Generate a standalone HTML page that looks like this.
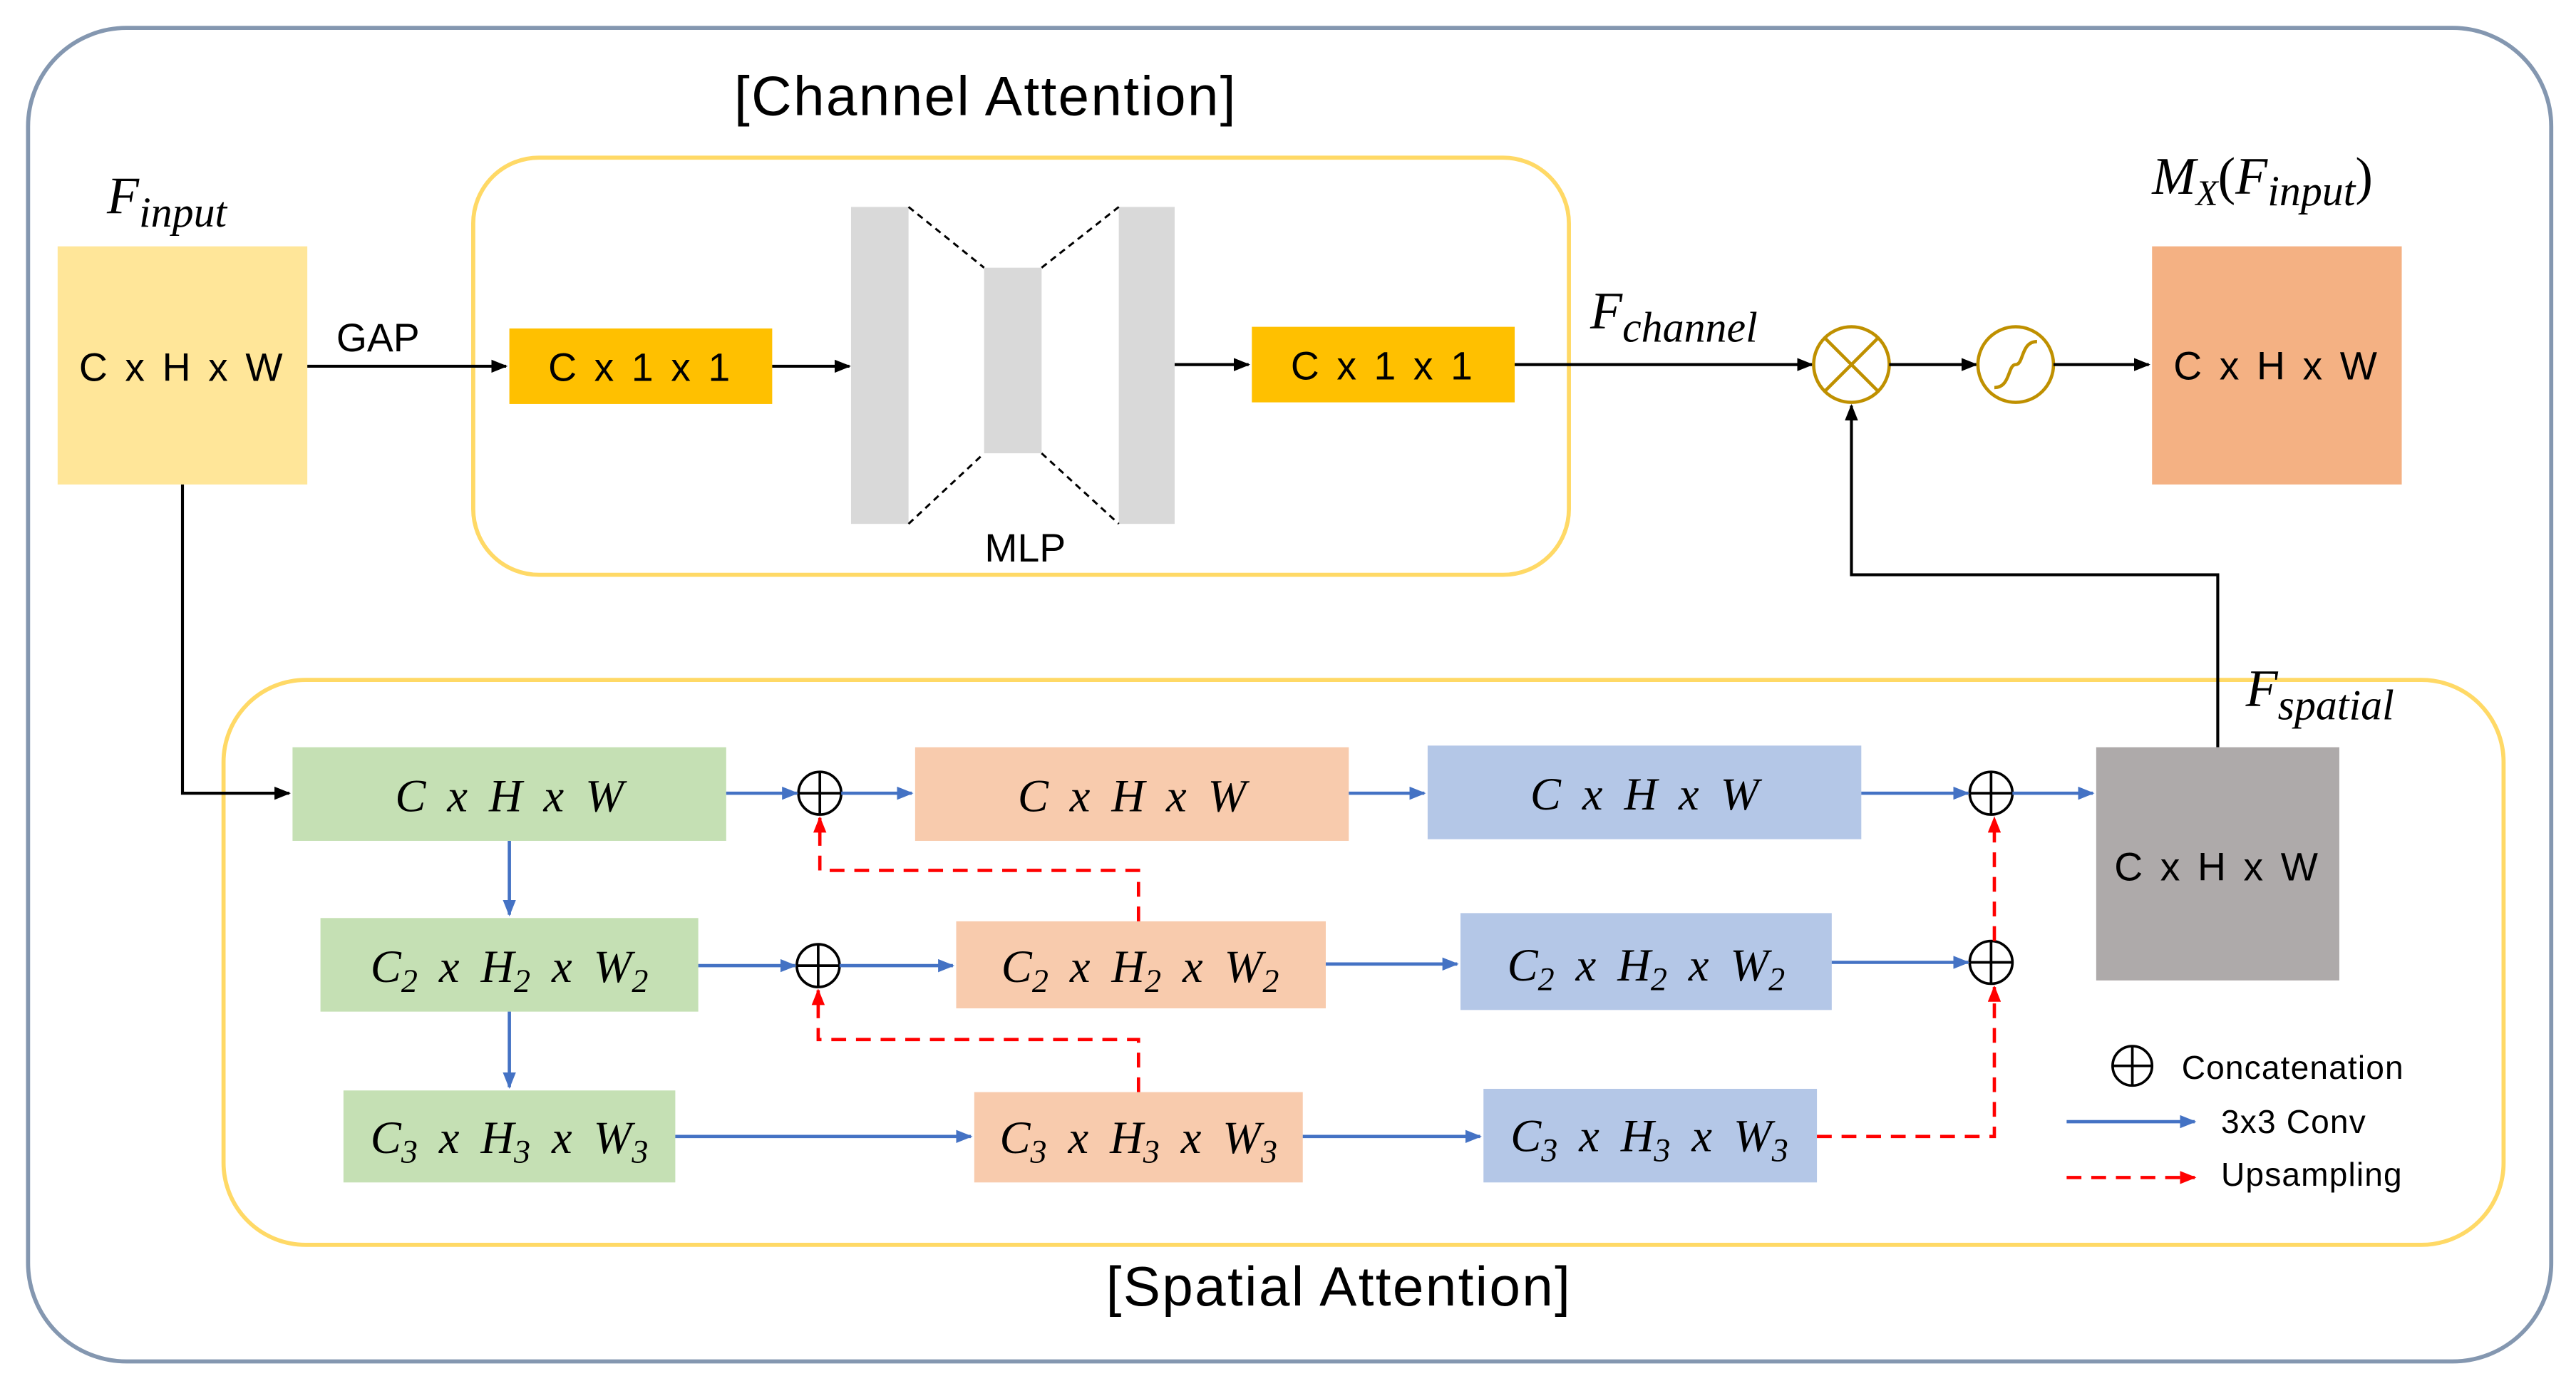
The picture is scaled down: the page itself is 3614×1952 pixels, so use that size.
<!DOCTYPE html>
<html><head><meta charset="utf-8"><style>
html,body{margin:0;padding:0;background:#fff;}
svg{display:block;}
.s{font-family:"Liberation Sans",sans-serif;}
.m{font-family:"Liberation Serif",serif;font-style:italic;}
</style></head><body>
<svg width="3614" height="1952" viewBox="0 0 1568 847" xmlns="http://www.w3.org/2000/svg">
<defs>
<marker id="ak" markerWidth="10" markerHeight="8" refX="9" refY="4" orient="auto" markerUnits="userSpaceOnUse"><path d="M0,0 L10,4 L0,8 z" fill="#000"/></marker>
<marker id="ab" markerWidth="10" markerHeight="8" refX="9" refY="4" orient="auto" markerUnits="userSpaceOnUse"><path d="M0,0 L10,4 L0,8 z" fill="#4472c4"/></marker>
<marker id="ar" markerWidth="10" markerHeight="8" refX="9" refY="4" orient="auto" markerUnits="userSpaceOnUse"><path d="M0,0 L10,4 L0,8 z" fill="#ff0000"/></marker>
</defs>
<rect x="0" y="0" width="1568" height="847" fill="#fff"/>
<rect x="17" y="17" width="1536" height="812" rx="60" fill="none" stroke="#8497b0" stroke-width="2.5"/>
<rect x="288" y="96" width="667" height="254" rx="40" fill="none" stroke="#ffd966" stroke-width="2.5"/>
<rect x="136" y="414" width="1388" height="344" rx="50" fill="none" stroke="#ffd966" stroke-width="2.5"/>
<text x="600" y="70" class="s" font-size="34" text-anchor="middle" letter-spacing="1">[Channel Attention]</text>
<text x="815" y="795" class="s" font-size="34" text-anchor="middle" letter-spacing="1">[Spatial Attention]</text>

<text x="65" y="130" class="m" font-size="32">F<tspan font-size="26" dy="8">input</tspan></text>
<rect x="35" y="150" width="152" height="145" fill="#ffe699"/>
<text x="111" y="232" class="s" font-size="24" text-anchor="middle" letter-spacing="2">C x H x W</text>
<line x1="187" y1="223" x2="308" y2="223" stroke="#000" stroke-width="1.8" marker-end="url(#ak)"/>
<text x="230" y="214" class="s" font-size="24" text-anchor="middle">GAP</text>
<rect x="310" y="200" width="160" height="46" fill="#ffc000"/>
<text x="390" y="232" class="s" font-size="24" text-anchor="middle" letter-spacing="2">C x 1 x 1</text>
<line x1="470" y1="223" x2="517" y2="223" stroke="#000" stroke-width="1.8" marker-end="url(#ak)"/>
<rect x="518" y="126" width="35" height="193" fill="#d9d9d9"/>
<rect x="599" y="163" width="35" height="113" fill="#d9d9d9"/>
<rect x="681" y="126" width="34" height="193" fill="#d9d9d9"/>
<g stroke="#000" stroke-width="1.3" stroke-dasharray="4,3">
<line x1="553" y1="126" x2="599" y2="163"/><line x1="553" y1="319" x2="599" y2="276"/>
<line x1="634" y1="163" x2="681" y2="126"/><line x1="634" y1="276" x2="681" y2="319"/>
</g>
<text x="624" y="342" class="s" font-size="24" text-anchor="middle">MLP</text>
<line x1="715" y1="222" x2="760" y2="222" stroke="#000" stroke-width="1.8" marker-end="url(#ak)"/>
<rect x="762" y="199" width="160" height="46" fill="#ffc000"/>
<text x="842" y="231" class="s" font-size="24" text-anchor="middle" letter-spacing="2">C x 1 x 1</text>
<line x1="922" y1="222" x2="1103" y2="222" stroke="#000" stroke-width="1.8" marker-end="url(#ak)"/>
<text x="968" y="200" class="m" font-size="32">F<tspan font-size="26" dy="8">channel</tspan></text>
<circle cx="1127" cy="222" r="23" fill="none" stroke="#bf9000" stroke-width="2"/>
<line x1="1111" y1="206" x2="1143" y2="238" stroke="#bf9000" stroke-width="2"/>
<line x1="1143" y1="206" x2="1111" y2="238" stroke="#bf9000" stroke-width="2"/>
<line x1="1150" y1="222" x2="1203" y2="222" stroke="#000" stroke-width="1.8" marker-end="url(#ak)"/>
<circle cx="1227" cy="222" r="23" fill="none" stroke="#bf9000" stroke-width="2"/>
<path d="M1214,236 C1224,236 1222,222 1227,222 C1232,222 1230,208 1240,208" fill="none" stroke="#bf9000" stroke-width="2"/>
<line x1="1250" y1="222" x2="1308" y2="222" stroke="#000" stroke-width="1.8" marker-end="url(#ak)"/>
<text x="1310" y="118" class="m" font-size="32">M<tspan font-size="22" dy="7">X</tspan><tspan dy="-7" font-style="normal">(</tspan>F<tspan font-size="26" dy="7">input</tspan><tspan dy="-7" font-style="normal">)</tspan></text>
<rect x="1310" y="150" width="152" height="145" fill="#f4b183"/>
<text x="1386" y="231" class="s" font-size="24" text-anchor="middle" letter-spacing="2">C x H x W</text>
<polyline points="1350,455 1350,350 1127,350 1127,247" fill="none" stroke="#000" stroke-width="1.8" marker-end="url(#ak)"/>
<text x="1367" y="430" class="m" font-size="32">F<tspan font-size="26" dy="8">spatial</tspan></text>
<polyline points="111,295 111,483 176,483" fill="none" stroke="#000" stroke-width="1.8" marker-end="url(#ak)"/>

<rect x="178" y="455" width="264" height="57" fill="#c5e0b4"/>
<rect x="195" y="559" width="230" height="57" fill="#c5e0b4"/>
<rect x="209" y="664" width="202" height="56" fill="#c5e0b4"/>
<rect x="557" y="455" width="264" height="57" fill="#f8cbad"/>
<rect x="582" y="561" width="225" height="53" fill="#f8cbad"/>
<rect x="593" y="665" width="200" height="55" fill="#f8cbad"/>
<rect x="869" y="454" width="264" height="57" fill="#b4c7e7"/>
<rect x="889" y="556" width="226" height="59" fill="#b4c7e7"/>
<rect x="903" y="663" width="203" height="57" fill="#b4c7e7"/>
<rect x="1276" y="455" width="148" height="142" fill="#aeaaaa"/>
<text x="1350" y="536" class="s" font-size="24" text-anchor="middle" letter-spacing="2">C x H x W</text>

<g class="m" font-size="28" text-anchor="middle" word-spacing="6">
<text x="310" y="494">C x H x W</text>
<text x="689" y="494">C x H x W</text>
<text x="1001" y="493">C x H x W</text>
<text x="310" y="598">C<tspan font-size="20" dy="6">2</tspan><tspan dy="-6"> x H</tspan><tspan font-size="20" dy="6">2</tspan><tspan dy="-6"> x W</tspan><tspan font-size="20" dy="6">2</tspan></text>
<text x="694" y="598">C<tspan font-size="20" dy="6">2</tspan><tspan dy="-6"> x H</tspan><tspan font-size="20" dy="6">2</tspan><tspan dy="-6"> x W</tspan><tspan font-size="20" dy="6">2</tspan></text>
<text x="1002" y="597">C<tspan font-size="20" dy="6">2</tspan><tspan dy="-6"> x H</tspan><tspan font-size="20" dy="6">2</tspan><tspan dy="-6"> x W</tspan><tspan font-size="20" dy="6">2</tspan></text>
<text x="310" y="702">C<tspan font-size="20" dy="6">3</tspan><tspan dy="-6"> x H</tspan><tspan font-size="20" dy="6">3</tspan><tspan dy="-6"> x W</tspan><tspan font-size="20" dy="6">3</tspan></text>
<text x="693" y="702">C<tspan font-size="20" dy="6">3</tspan><tspan dy="-6"> x H</tspan><tspan font-size="20" dy="6">3</tspan><tspan dy="-6"> x W</tspan><tspan font-size="20" dy="6">3</tspan></text>
<text x="1004" y="701">C<tspan font-size="20" dy="6">3</tspan><tspan dy="-6"> x H</tspan><tspan font-size="20" dy="6">3</tspan><tspan dy="-6"> x W</tspan><tspan font-size="20" dy="6">3</tspan></text>
</g>

<g fill="none" stroke="#000" stroke-width="1.6">
<circle cx="499" cy="483" r="13"/><line x1="486" y1="483" x2="512" y2="483"/><line x1="499" y1="470" x2="499" y2="496"/>
<circle cx="498" cy="588" r="13"/><line x1="485" y1="588" x2="511" y2="588"/><line x1="498" y1="575" x2="498" y2="601"/>
<circle cx="1212" cy="483" r="13"/><line x1="1199" y1="483" x2="1225" y2="483"/><line x1="1212" y1="470" x2="1212" y2="496"/>
<circle cx="1212" cy="586" r="13"/><line x1="1199" y1="586" x2="1225" y2="586"/><line x1="1212" y1="573" x2="1212" y2="599"/>
<circle cx="1298" cy="649" r="12"/><line x1="1286" y1="649" x2="1310" y2="649"/><line x1="1298" y1="637" x2="1298" y2="661"/>
</g>

<g stroke="#4472c4" stroke-width="2" fill="none" marker-end="url(#ab)">
<line x1="442" y1="483" x2="485" y2="483"/>
<line x1="512" y1="483" x2="555" y2="483"/>
<line x1="821" y1="483" x2="867" y2="483"/>
<line x1="1133" y1="483" x2="1198" y2="483"/>
<line x1="1225" y1="483" x2="1274" y2="483"/>
<line x1="425" y1="588" x2="484" y2="588"/>
<line x1="511" y1="588" x2="580" y2="588"/>
<line x1="807" y1="587" x2="887" y2="587"/>
<line x1="1115" y1="586" x2="1198" y2="586"/>
<line x1="411" y1="692" x2="591" y2="692"/>
<line x1="793" y1="692" x2="901" y2="692"/>
<line x1="310" y1="512" x2="310" y2="557"/>
<line x1="310" y1="616" x2="310" y2="662"/>
<line x1="1258" y1="683" x2="1336" y2="683"/>
</g>
<g stroke="#ff0000" stroke-width="2" fill="none" stroke-dasharray="9,6">
<polyline points="693,561 693,530 499,530 499,498" marker-end="url(#ar)"/>
<polyline points="693,665 693,633 498,633 498,603" marker-end="url(#ar)"/>
<polyline points="1106,692 1214,692 1214,601" marker-end="url(#ar)"/>
<polyline points="1214,573 1214,498" marker-end="url(#ar)"/>
<line x1="1258" y1="717" x2="1336" y2="717" marker-end="url(#ar)"/>
</g>
<text x="1328" y="657" class="s" font-size="20" letter-spacing="0.5">Concatenation</text>
<text x="1352" y="690" class="s" font-size="20" letter-spacing="0.5">3x3 Conv</text>
<text x="1352" y="722" class="s" font-size="20" letter-spacing="0.5">Upsampling</text>
</svg>
</body></html>
